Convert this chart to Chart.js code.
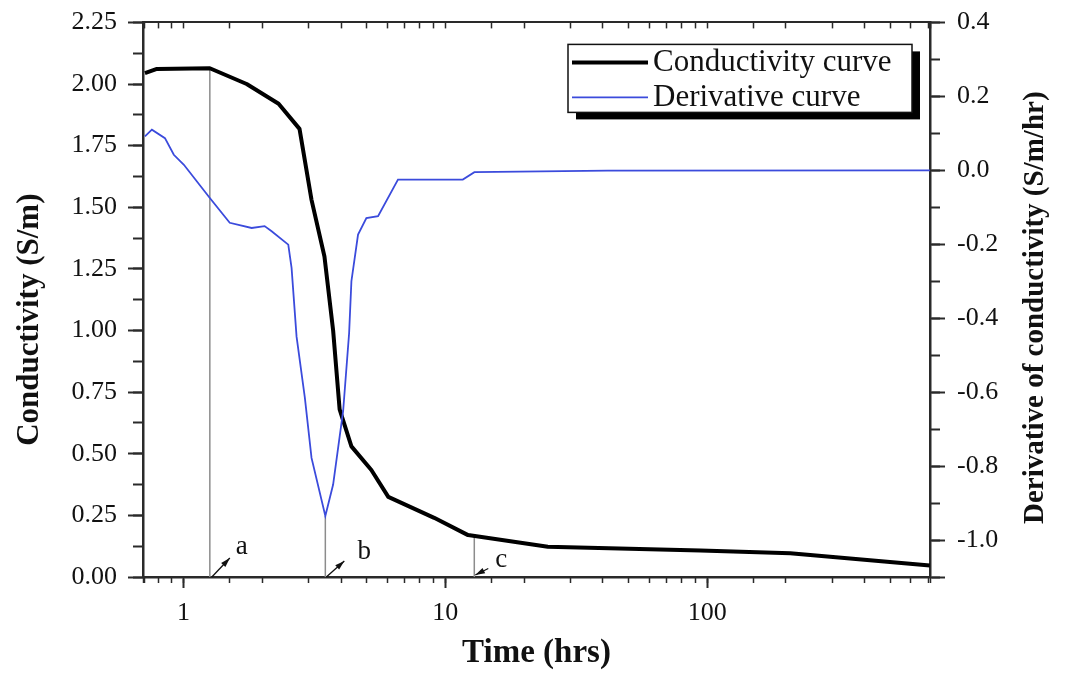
<!DOCTYPE html>
<html lang="en">
<head>
<meta charset="UTF-8" />
<title>Conductivity and derivative curves</title>
<script src="https://cdn.jsdelivr.net/npm/chart.js"></script>
<style>
  body { margin: 0; background: #fff; }
  #wrap { width: 1065px; height: 673px; }
</style>
</head>
<body>
<div id="wrap"><canvas id="chart"></canvas></div>
<script>
// conductivity curve (S/m) against time (hrs)
const condTime = [0.712, 0.791, 1.26, 1.742, 2.307, 2.773, 3.082, 3.453, 3.727, 3.946, 4.377, 5.216, 6.054, 9.063, 12.21, 24.63, 94.3, 207.7, 709];
const condValue = [2.044, 2.061, 2.064, 2.0, 1.92, 1.818, 1.53, 1.30, 1.0, 0.68, 0.53, 0.434, 0.325, 0.24, 0.17, 0.123, 0.108, 0.096, 0.047];

// derivative curve (S/m/hr)
const derivTime = [0.712, 0.757, 0.849, 0.918, 1.003, 1.26, 1.501, 1.82, 2.04, 2.17, 2.512, 2.586, 2.702, 2.906, 3.082, 3.48, 3.727, 4.07, 4.29, 4.377, 4.64, 4.993, 5.533, 6.592, 11.66, 12.91, 41.6, 709];
const derivValue = [0.092, 0.110, 0.087, 0.042, 0.015, -0.075, -0.142, -0.156, -0.151, -0.165, -0.201, -0.264, -0.45, -0.615, -0.778, -0.935, -0.85, -0.651, -0.44, -0.30, -0.174, -0.129, -0.124, -0.025, -0.025, -0.005, -0.001, 0];

// marked points a, b, c
const markerLabel = ['a', 'b', 'c'];
const markerTime = [1.26, 3.48, 12.9];
const markerBase = [0, -1.1, 0];
const markerTop = [2.064, -0.935, 0.167];
const markerAxis = ['y', 'y2', 'y'];

const xTickLabels = [1, 10, 100];

Chart.defaults.font.family = '"Liberation Serif", "Times New Roman", serif';
Chart.defaults.color = '#111';

const toXY = (ts, vs) => ts.map((t, i) => ({ x: t, y: vs[i] }));

const datasets = [
  {
    label: 'Derivative curve',
    data: toXY(derivTime, derivValue),
    yAxisID: 'y2',
    borderColor: '#3b4bdc',
    borderWidth: 1.8,
    pointRadius: 0,
    order: 0,
  },
  {
    label: 'Conductivity curve',
    data: toXY(condTime, condValue),
    yAxisID: 'y',
    borderColor: '#000',
    borderWidth: 4,
    borderJoinStyle: 'round',
    pointRadius: 0,
    order: 1,
  },
];
markerTime.forEach((t, i) => {
  datasets.push({
    label: 'marker ' + markerLabel[i],
    data: [{ x: t, y: markerBase[i] }, { x: t, y: markerTop[i] }],
    yAxisID: markerAxis[i],
    borderColor: '#8c8c8c',
    borderWidth: 1.5,
    pointRadius: 0,
    order: 2,
  });
});

// letter + arrow placement, pixels relative to foot of each marker line
const markerNotes = [
  { tx: 32, ty: -30, x1: 2, y1: 0, x2: 20, y2: -19, },
  { tx: 39, ty: -25, x1: 1, y1: 0, x2: 19, y2: -16, },
  { tx: 27, ty: -17, x1: 14, y1: -8.5, x2: 1, y2: -2, },
];

function arrow(ctx, x1, y1, x2, y2) {
  const ang = Math.atan2(y2 - y1, x2 - x1);
  ctx.beginPath();
  ctx.moveTo(x1, y1);
  ctx.lineTo(x2, y2);
  ctx.stroke();
  ctx.beginPath();
  ctx.moveTo(x2, y2);
  ctx.lineTo(x2 - 10 * Math.cos(ang - 0.3), y2 - 10 * Math.sin(ang - 0.3));
  ctx.lineTo(x2 - 10 * Math.cos(ang + 0.3), y2 - 10 * Math.sin(ang + 0.3));
  ctx.closePath();
  ctx.fill();
}

const overlay = {
  id: 'overlay',
  afterDraw(chart) {
    const { ctx, chartArea, scales } = chart;
    ctx.save();

    // a, b, c labels
    const foot = scales.y.getPixelForValue(0);
    ctx.font = '27px "Liberation Serif"';
    ctx.textAlign = 'center';
    ctx.textBaseline = 'middle';
    ctx.fillStyle = '#111';
    ctx.strokeStyle = '#111';
    ctx.lineWidth = 1.3;
    markerTime.forEach((t, i) => {
      const px = scales.x.getPixelForValue(t);
      const n = markerNotes[i];
      ctx.fillText(markerLabel[i], px + n.tx, foot + n.ty);
      arrow(ctx, px + n.x1, foot + n.y1, px + n.x2, foot + n.y2);
    });

    // legend box with drop shadow
    const bx = chartArea.right - 362, by = chartArea.top + 22, bw = 344, bh = 68;
    ctx.fillStyle = '#000';
    ctx.fillRect(bx + 8, by + 7, bw, bh);
    ctx.fillStyle = '#fff';
    ctx.fillRect(bx, by, bw, bh);
    ctx.strokeStyle = '#111';
    ctx.lineWidth = 1.5;
    ctx.strokeRect(bx, by, bw, bh);
    ctx.font = '31px "Liberation Serif"';
    ctx.textAlign = 'left';
    ctx.fillStyle = '#111';
    const rows = [datasets[1], datasets[0]];
    rows.forEach((ds, i) => {
      const ry = by + 18 + i * 35;
      ctx.strokeStyle = ds.borderColor;
      ctx.lineWidth = ds.borderWidth;
      ctx.beginPath();
      ctx.moveTo(bx + 4, ry);
      ctx.lineTo(bx + 80, ry);
      ctx.stroke();
      ctx.fillText(ds.label, bx + 85, ry);
    });

    // vertical axis titles
    const midY = (chartArea.top + chartArea.bottom) / 2;
    ctx.font = 'bold 31px "Liberation Serif"';
    ctx.textAlign = 'center';
    ctx.translate(30, midY + 20);
    ctx.rotate(-Math.PI / 2);
    ctx.fillText('Conductivity (S/m)', 0, 0);
    ctx.setTransform(1, 0, 0, 1, 0, 0);
    ctx.font = 'bold 29px "Liberation Serif"';
    ctx.translate(1036, midY + 8);
    ctx.rotate(-Math.PI / 2);
    ctx.fillText('Derivative of conductivity (S/m/hr)', 0, 0);
    ctx.restore();
  },
};

const xTickFont = { size: 26 };
const yTickFont = { size: 26, lineHeight: 0.8 };
const axisLine = { display: true, color: '#2a2a2a', width: 2.5 };
const noLine = { display: false };

new Chart(document.getElementById('chart'), {
  type: 'line',
  data: { datasets },
  options: {
    responsive: true,
    maintainAspectRatio: false,
    animation: false,
    layout: { padding: { top: 22, left: 0, right: 0, bottom: 0 } },
    plugins: { legend: { display: false }, tooltip: { enabled: false } },
    scales: {
      x: {
        type: 'logarithmic',
        position: 'bottom',
        weight: 1,
        min: 0.71,
        max: 710,
        afterBuildTicks: (s) => { s.ticks = s.ticks.filter((t) => xTickLabels.includes(t.value)); },
        afterFit: (s) => { s.height = 96; },
        ticks: { font: xTickFont, padding: 10, maxRotation: 0, autoSkip: false, callback: (v) => String(v) },
        grid: { drawOnChartArea: false, tickLength: 11, tickWidth: 2, tickColor: '#2a2a2a' },
        border: axisLine,
        title: { display: true, text: 'Time (hrs)', font: { size: 33, weight: 'bold' }, padding: 0 },
      },
      xMinor: {
        type: 'logarithmic',
        position: 'bottom',
        weight: 0,
        min: 0.71,
        max: 710,
        afterFit: (s) => { s.height = 0; },
        ticks: { display: false, callback: () => '' },
        grid: { drawOnChartArea: false, tickLength: 6, tickWidth: 1.5, tickColor: '#2a2a2a' },
        border: noLine,
      },
      xTop: {
        type: 'logarithmic',
        position: 'top',
        min: 0.71,
        max: 710,
        afterFit: (s) => { s.height = 0; },
        ticks: { display: false, callback: () => '' },
        grid: { drawOnChartArea: false, tickLength: -6, tickWidth: 1.5, tickColor: '#2a2a2a' },
        border: { display: true, color: '#2a2a2a', width: 2 },
      },
      y: {
        type: 'linear',
        position: 'left',
        weight: 1,
        min: 0,
        max: 2.25,
        afterFit: (s) => { s.width = 143; },
        ticks: { stepSize: 0.25, font: yTickFont, padding: 11, callback: (v) => v.toFixed(2) },
        grid: { drawOnChartArea: false, tickLength: 15, tickWidth: 2, tickColor: '#2a2a2a' },
        border: axisLine,
      },
      yMinor: {
        type: 'linear',
        position: 'left',
        weight: 0,
        min: 0,
        max: 2.25,
        afterFit: (s) => { s.width = 0; },
        ticks: { stepSize: 0.125, display: false, callback: () => '' },
        grid: { drawOnChartArea: false, tickLength: 10, tickWidth: 2, tickColor: '#2a2a2a' },
        border: noLine,
      },
      y2: {
        type: 'linear',
        position: 'right',
        weight: 1,
        min: -1.1,
        max: 0.4,
        afterFit: (s) => { s.width = 135; },
        ticks: {
          stepSize: 0.2,
          font: yTickFont,
          padding: 12,
          callback: (v) => {
            if (Math.abs(Math.round(v * 5) - v * 5) > 1e-6) return '';
            const r = Math.round(v * 10) / 10;
            return (r === 0 ? 0 : r).toFixed(1);
          },
        },
        grid: { drawOnChartArea: false, tickLength: 15, tickWidth: 2, tickColor: '#2a2a2a' },
        border: axisLine,
      },
      y2Minor: {
        type: 'linear',
        position: 'right',
        weight: 0,
        min: -1.1,
        max: 0.4,
        afterFit: (s) => { s.width = 0; },
        ticks: { stepSize: 0.1, display: false, callback: () => '' },
        grid: { drawOnChartArea: false, tickLength: 10, tickWidth: 2, tickColor: '#2a2a2a' },
        border: noLine,
      },
    },
  },
  plugins: [overlay],
});
</script>
</body>
</html>
